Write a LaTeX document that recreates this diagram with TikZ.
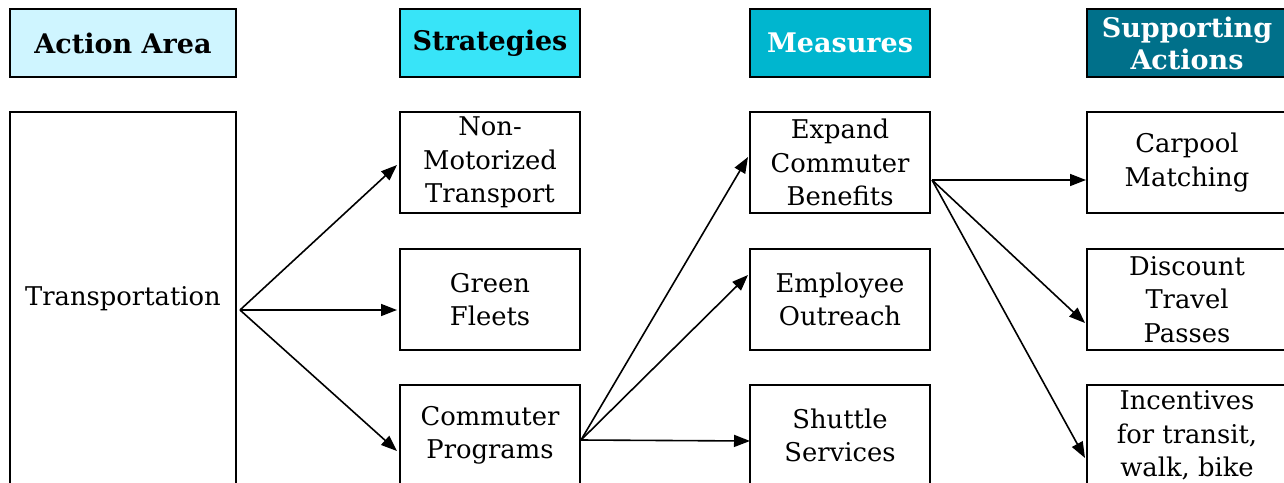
\documentclass[tikz,border=0pt]{standalone}
\usepackage{fontspec}
\setmainfont{DejaVu Serif}
\usetikzlibrary{arrows.meta}
\definecolor{cA}{HTML}{CFF5FF}
\definecolor{cS}{HTML}{38E4F8}
\definecolor{cM}{HTML}{00B6CF}
\definecolor{cP}{HTML}{00708A}
\begin{document}
\begin{tikzpicture}[x=1pt,y=-1pt,
  box/.style={draw=black,line width=2pt,minimum width=180pt,minimum height=101pt,inner sep=0pt,align=center,font=\fontsize{25.8}{33.5}\selectfont},
  hdr/.style={draw=black,line width=2.5pt,minimum height=68pt,minimum width=180pt,inner sep=0pt,align=center,font=\fontsize{27}{32}\selectfont\bfseries},
  arr/.style={line width=1.6pt,-{Triangle[length=16pt,width=12pt]}}]
\useasboundingbox (0,0) rectangle (1284,482);
\clip (0,0) rectangle (1284,482);
% headers
\node[hdr,fill=cA,minimum width=226pt] (hA) at (123,43) {Action Area};
\node[hdr,fill=cS] (hS) at (490,43) {Strategies};
\node[hdr,fill=cM,text=white] (hM) at (840,43) {Measures};
\node[hdr,fill=cP,text=white,minimum width=200pt] (hP) at (1187,43) {Supporting\\Actions};
% action area
\node[box,minimum width=226pt,minimum height=374pt] (T) at (123,299) {Transportation};
% strategies
\node[box] (S1) at (490,162.5) {Non-\\Motorized\\Transport};
\node[box] (S2) at (490,299.5) {Green\\Fleets};
\node[box] (S3) at (490,435.5) {Commuter\\Programs};
% measures
\node[box] (M1) at (840,162.5) {Expand\\Commuter\\Benefits};
\node[box] (M2) at (840,299.5) {Employee\\Outreach};
\node[box] (M3) at (840,435.5) {Shuttle\\Services};
% supporting actions
\node[box,minimum width=200pt] (P1) at (1187,162.5) {Carpool\\Matching};
\node[box,minimum width=200pt] (P2) at (1187,299.5) {Discount\\Travel\\Passes};
\node[box,minimum width=200pt] (P3) at (1187,435.5) {Incentives\\for transit,\\walk, bike};
% connector points
\coordinate (tS) at (240,310);
\coordinate (s1W) at (397,165);
\coordinate (s2W) at (397,310);
\coordinate (s3W) at (397,451);
\coordinate (cS) at (581,440);
\coordinate (m1W) at (748,157);
\coordinate (m2W) at (748,275);
\coordinate (m3W) at (750,441);
\coordinate (eS) at (932,180);
\coordinate (p1W) at (1086,180);
\coordinate (p2W) at (1085,323);
\coordinate (p3W) at (1085,458);
% arrows
\draw[arr] (tS) -- (s1W);
\draw[arr] (tS) -- (s2W);
\draw[arr] (tS) -- (s3W);
\draw[arr] (cS) -- (m1W);
\draw[arr] (cS) -- (m2W);
\draw[arr] (cS) -- (m3W);
\draw[arr] (eS) -- (p1W);
\draw[arr] (eS) -- (p2W);
\draw[arr] (eS) -- (p3W);
\end{tikzpicture}
\end{document}
